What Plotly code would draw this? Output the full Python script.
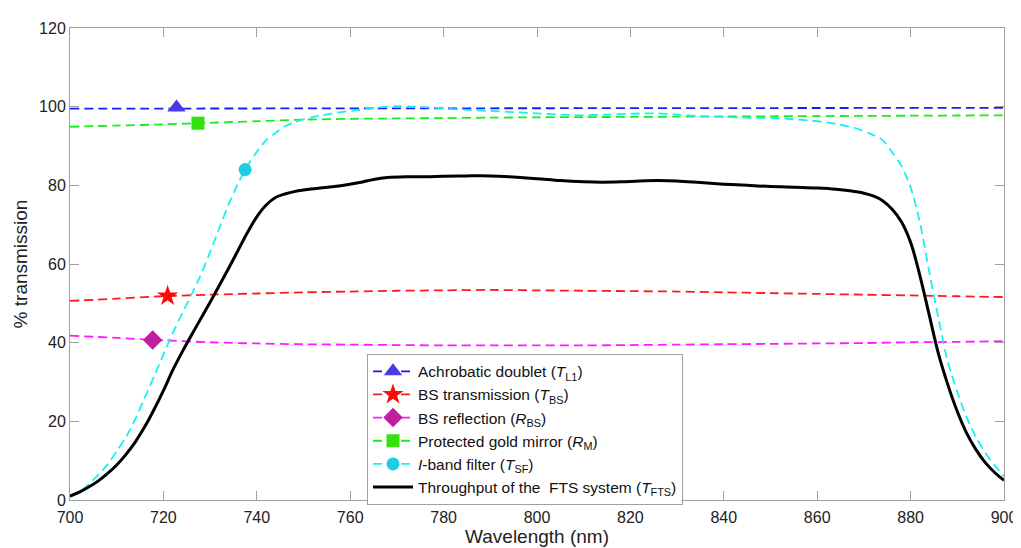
import plotly.graph_objects as go

# ---------------- data ----------------
wl_tl1 = [700, 750, 800, 850, 900]
t_l1 = [99.5, 99.55, 99.6, 99.65, 99.7]

wl_bs = [700, 710, 720, 730, 740, 750, 760, 770, 780, 790, 800, 810, 820, 830, 840, 850, 860, 870, 880, 890, 900]
t_bs = [50.6, 51.2, 51.8, 52.2, 52.5, 52.8, 53.0, 53.2, 53.3, 53.4, 53.3, 53.2, 53.1, 53.0, 52.8, 52.6, 52.4, 52.2, 52.0, 51.8, 51.6]
r_bs = [41.8, 41.2, 40.6, 40.1, 39.8, 39.6, 39.5, 39.4, 39.3, 39.3, 39.3, 39.3, 39.4, 39.5, 39.6, 39.7, 39.8, 39.9, 40.1, 40.2, 40.4]
r_m = [94.9, 95.2, 95.5, 95.9, 96.3, 96.7, 96.9, 97.0, 97.1, 97.2, 97.3, 97.35, 97.4, 97.45, 97.5, 97.55, 97.6, 97.65, 97.7, 97.75, 97.8]

wl_sf = [700, 702, 704, 706, 708, 710, 712, 714, 716, 718, 720, 722, 724, 726, 728, 730, 732, 734,
         736, 738, 740, 742, 744, 746, 748, 750, 754, 758, 762, 766, 770, 774, 778, 782, 786, 790,
         795, 800, 805, 810, 815, 820, 825, 830, 835, 840, 845, 850, 855, 860, 864, 868, 871, 874,
         876, 878, 880, 882, 884, 886, 888, 890, 892, 894, 896, 898, 900]
t_sf = [0.8, 2.0, 4.0, 6.3, 9.0, 12.4, 16.0, 20.6, 26.0, 31.4, 37.0, 42.4, 47.4, 52.2, 57.2, 63.0, 69.2, 75.2,
        80.5, 85.0, 88.5, 91.5, 93.3, 95.0, 96.0, 96.8, 97.8, 98.6, 99.2, 99.8, 100.1, 100.0, 99.7, 99.4, 99.1, 98.9,
        98.6, 98.3, 98.0, 97.8, 98.0, 98.2, 98.3, 98.0, 97.6, 97.4, 97.2, 97.1, 96.8, 96.3, 95.6, 94.6, 93.3, 91.5,
        88.5, 85.0, 79.5, 70.5, 58.0, 46.0, 35.0, 27.5, 21.0, 16.0, 12.0, 8.8, 6.0]

wl_fts = [700, 702, 704, 706, 708, 710, 712, 714, 716, 718, 720, 722, 724, 726, 728, 730, 732, 734,
          736, 738, 740, 742, 744, 746, 748, 750, 754, 758, 762, 765, 768, 772, 776, 780, 785, 790,
          795, 800, 805, 810, 814, 818, 822, 826, 830, 835, 840, 845, 850, 855, 860, 864, 867, 870,
          872, 874, 876, 878, 880, 882, 884, 886, 888, 890, 892, 894, 896, 898, 900]
t_fts = [1.0, 2.0, 3.3, 4.8, 6.7, 8.9, 11.6, 14.8, 18.6, 23.0, 27.8, 33.0, 37.6, 41.9, 46.1, 50.3, 54.6, 59.0,
         63.5, 68.0, 72.0, 75.0, 76.9, 77.8, 78.4, 78.8, 79.4, 79.9, 80.7, 81.5, 82.0, 82.2, 82.2, 82.3, 82.4, 82.4,
         82.1, 81.7, 81.2, 80.9, 80.8, 80.9, 81.1, 81.2, 81.1, 80.7, 80.3, 80.0, 79.7, 79.5, 79.3, 79.0, 78.6, 78.0,
         77.3, 76.1, 74.0, 70.8, 65.5, 57.0, 47.0, 37.0, 29.2, 22.5, 17.0, 12.8, 9.5, 7.0, 5.0]

# single marker positions (x, y) for each component curve
mk_tl1 = ([722.8], [99.8])
mk_tbs = ([720.9], [51.9])
mk_rbs = ([717.7], [40.7])
mk_rm = ([727.4], [95.8])
mk_tsf = ([737.5], [84.0])

names = [
    "Achrobatic doublet (<i>T</i><sub>L1</sub>)",
    "BS transmission (<i>T</i><sub>BS</sub>)",
    "BS reflection (<i>R</i><sub>BS</sub>)",
    "Protected gold mirror (<i>R</i><sub>M</sub>)",
    "<i>I</i>-band filter (<i>T</i><sub>SF</sub>)",
    "Throughput of the  FTS system (<i>T</i><sub>FTS</sub>)",
]

# ---------------- figure ----------------
fig = go.Figure()
dash = "9px,5px"

series = [
    (wl_tl1, t_l1, mk_tl1, "#1a1aff", "triangle-up", "#4a3ae6", 16),
    (wl_bs, t_bs, mk_tbs, "#ff1a1a", "star", "#ff0a0a", 16),
    (wl_bs, r_bs, mk_rbs, "#ff1aff", "diamond", "#c21fa0", 15),
    (wl_bs, r_m, mk_rm, "#1aee1a", "square", "#33e010", 13),
    (wl_sf, t_sf, mk_tsf, "#1af0f0", "circle", "#22cbe3", 13),
]

for i, (xs, ys, mk, lc, sym, mc, ms) in enumerate(series):
    fig.add_trace(go.Scatter(x=xs, y=ys, mode="lines", line=dict(color=lc, width=1.8, dash=dash, shape="spline", smoothing=0.8),
                             showlegend=False, hoverinfo="skip"))
    fig.add_trace(go.Scatter(x=mk[0], y=mk[1], mode="lines+markers", name=names[i],
                             line=dict(color=lc, width=1.8, dash=dash),
                             marker=dict(symbol=sym, color=mc, size=ms, line=dict(width=0))))

fig.add_trace(go.Scatter(x=wl_fts, y=t_fts, mode="lines", name=names[5],
                         line=dict(color="black", width=3, shape="spline", smoothing=1.0)))

axis_common = dict(showline=True, linecolor="#a0a0a0", linewidth=1, mirror="allticks",
                   ticks="inside", ticklen=9, tickcolor="#a0a0a0", showgrid=False, zeroline=False,
                   tickfont=dict(family="Liberation Sans, Arial", size=16, color="#222"))

fig.update_layout(
    width=1021, height=548,
    margin=dict(l=60, r=18, t=13, b=52),
    paper_bgcolor="white", plot_bgcolor="white",
    font=dict(family="Liberation Sans, Arial", color="#222"),
    xaxis=dict(range=[700, 900], tickvals=list(range(700, 901, 20)), ticklabelstandoff=3,
               title=dict(text="Wavelength (nm)", font=dict(size=19), standoff=4), **axis_common),
    yaxis=dict(range=[0, 120], tickvals=list(range(0, 121, 20)),
               title=dict(text="% transmission", font=dict(size=19), standoff=6), **axis_common),
    legend=dict(x=0.318, y=-0.01, xanchor="left", yanchor="bottom",
                bgcolor="white", bordercolor="#a0a0a0", borderwidth=1,
                font=dict(family="Liberation Sans, Arial", size=15.5, color="#111"),
                tracegroupgap=0, itemwidth=40),
)

fig.write_html("out.html")
